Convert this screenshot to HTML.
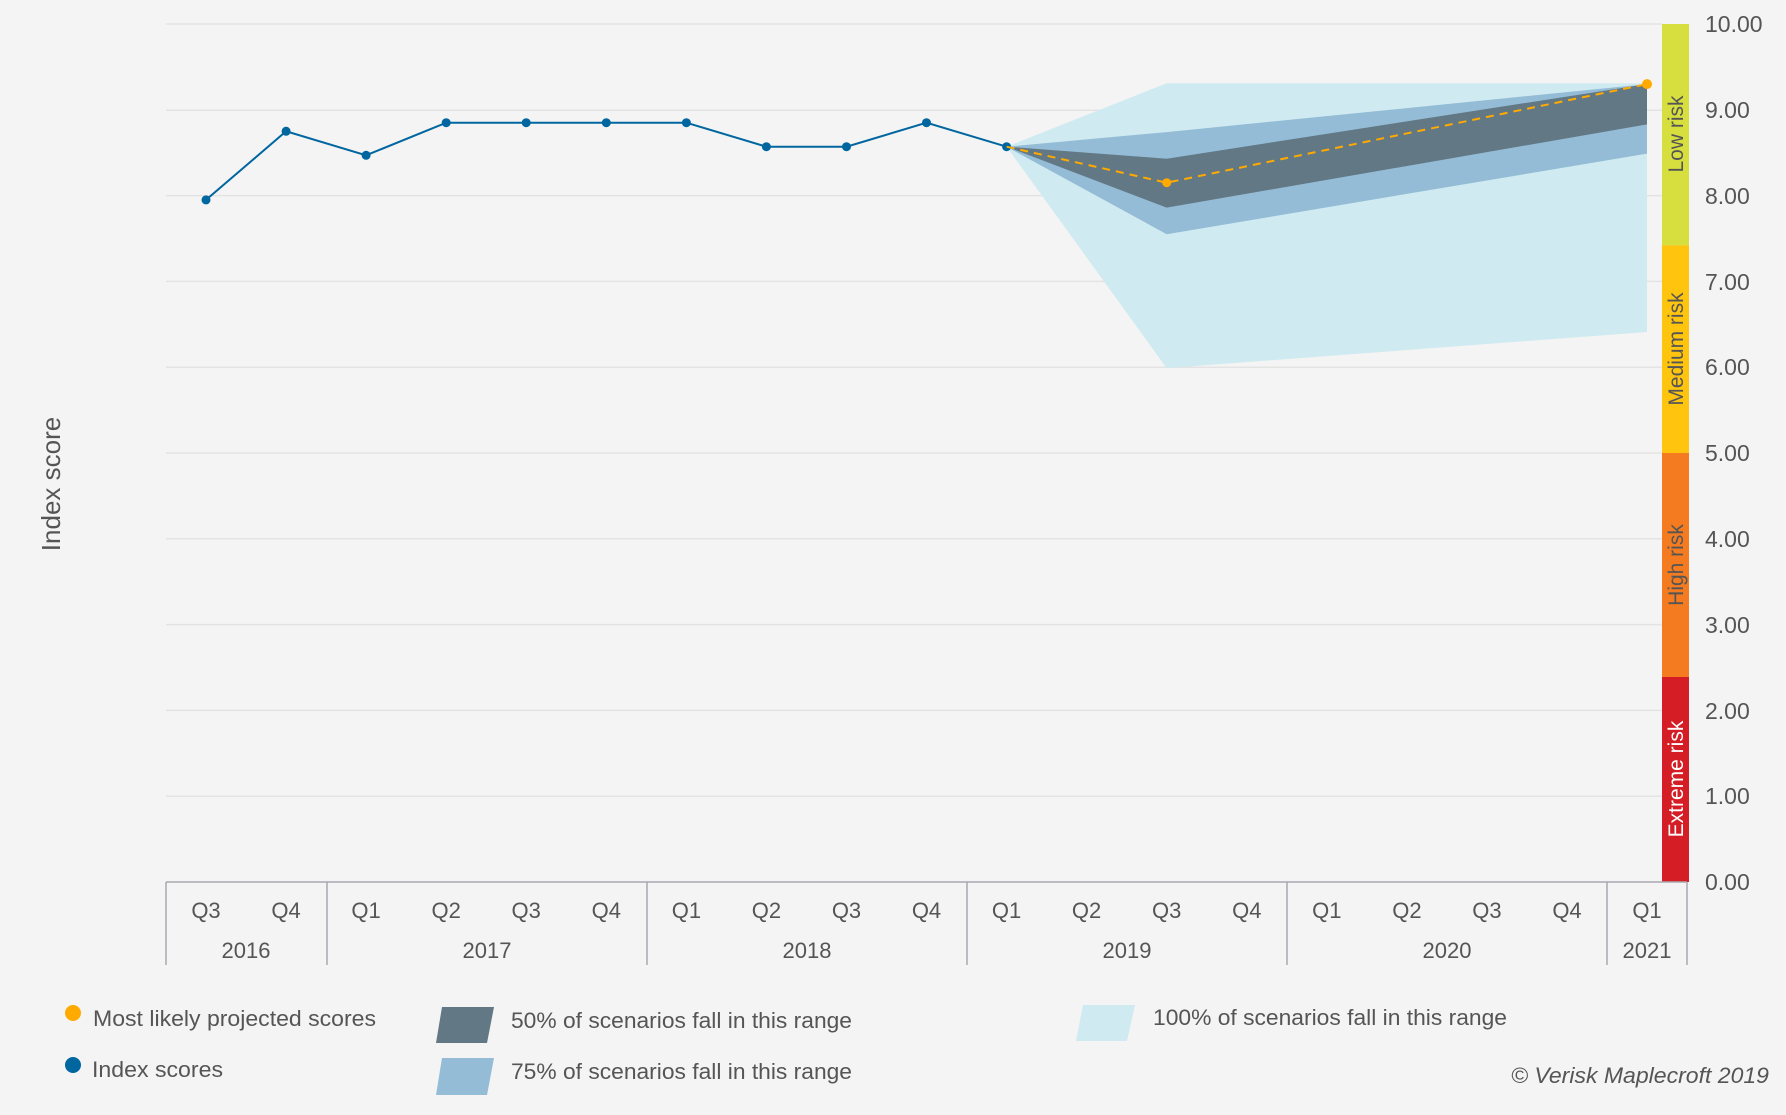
<!DOCTYPE html>
<html><head><meta charset="utf-8"><style>
html,body{margin:0;padding:0;background:#f4f4f4;}
svg{display:block;font-family:"Liberation Sans",Arial,sans-serif;}
</style></head><body>
<svg width="1786" height="1115" viewBox="0 0 1786 1115" xmlns="http://www.w3.org/2000/svg">
<rect width="1786" height="1115" fill="#f4f4f4"/>
<g stroke="#e3e3e3" stroke-width="1.5">
<line x1="166" x2="1662" y1="24" y2="24"/>
<line x1="166" x2="1662" y1="110.2" y2="110.2"/>
<line x1="166" x2="1662" y1="195.6" y2="195.6"/>
<line x1="166" x2="1662" y1="281.4" y2="281.4"/>
<line x1="166" x2="1662" y1="367.2" y2="367.2"/>
<line x1="166" x2="1662" y1="453" y2="453"/>
<line x1="166" x2="1662" y1="538.8" y2="538.8"/>
<line x1="166" x2="1662" y1="624.6" y2="624.6"/>
<line x1="166" x2="1662" y1="710.4" y2="710.4"/>
<line x1="166" x2="1662" y1="796.2" y2="796.2"/>
</g>
<polygon points="1006.6,146.7 1166.7,83.2 1647,83.2 1647,332 1166.7,368.1" fill="#cfeaf0"/>
<polygon points="1006.6,146.7 1166.7,132.1 1647,84.1 1647,153.6 1166.7,234.2" fill="#94bcd6"/>
<polygon points="1006.6,146.7 1166.7,158.7 1647,84.1 1647,124.4 1166.7,207.6" fill="#627884"/>
<polyline fill="none" stroke="#0066a0" stroke-width="2" points="206,199.9 286.1,131.3 366.1,155.3 446.2,122.7 526.2,122.7 606.3,122.7 686.4,122.7 766.4,146.7 846.5,146.7 926.5,122.7 1006.6,146.7"/>
<g fill="#0066a0">
<circle cx="206" cy="199.9" r="4.5"/><circle cx="286.1" cy="131.3" r="4.5"/><circle cx="366.1" cy="155.3" r="4.5"/><circle cx="446.2" cy="122.7" r="4.5"/><circle cx="526.2" cy="122.7" r="4.5"/><circle cx="606.3" cy="122.7" r="4.5"/><circle cx="686.4" cy="122.7" r="4.5"/><circle cx="766.4" cy="146.7" r="4.5"/><circle cx="846.5" cy="146.7" r="4.5"/><circle cx="926.5" cy="122.7" r="4.5"/><circle cx="1006.6" cy="146.7" r="4.5"/>
</g>
<polyline fill="none" stroke="#ffaa00" stroke-width="2" stroke-dasharray="8,6" points="1006.6,146.7 1166.7,182.7 1647,84.1"/>
<circle cx="1166.7" cy="182.7" r="4.5" fill="#ffaa00"/>
<circle cx="1647" cy="84.1" r="5" fill="#ffaa00"/>
<rect x="1662" y="24" width="27" height="221.4" fill="#d7df3e"/>
<rect x="1662" y="245.4" width="27" height="207.6" fill="#ffc40e"/>
<rect x="1662" y="453" width="27" height="224" fill="#f47b20"/>
<rect x="1662" y="677" width="27" height="205" fill="#d41d24"/>
<g font-size="21" text-anchor="middle">
<text transform="translate(1683,134) rotate(-90)" fill="#555">Low risk</text>
<text transform="translate(1683,349) rotate(-90)" fill="#555">Medium risk</text>
<text transform="translate(1683,565) rotate(-90)" fill="#555">High risk</text>
<text transform="translate(1683,779) rotate(-90)" fill="#fff">Extreme risk</text>
</g>
<g font-size="23" fill="#555" text-anchor="start">
<text x="1705" y="32">10.00</text>
<text x="1705" y="118">9.00</text>
<text x="1705" y="204">8.00</text>
<text x="1705" y="290">7.00</text>
<text x="1705" y="375">6.00</text>
<text x="1705" y="461">5.00</text>
<text x="1705" y="547">4.00</text>
<text x="1705" y="633">3.00</text>
<text x="1705" y="719">2.00</text>
<text x="1705" y="804">1.00</text>
<text x="1705" y="890">0.00</text>
</g>
<text transform="translate(60,484) rotate(-90)" font-size="26" fill="#555" text-anchor="middle">Index score</text>
<line x1="166" x2="1687" y1="882" y2="882" stroke="#a8a8b0" stroke-width="1.5"/>
<g stroke="#a8a8b0" stroke-width="1.5">
<line x1="166" x2="166" y1="882" y2="965"/>
<line x1="327" x2="327" y1="882" y2="965"/>
<line x1="647" x2="647" y1="882" y2="965"/>
<line x1="967" x2="967" y1="882" y2="965"/>
<line x1="1287" x2="1287" y1="882" y2="965"/>
<line x1="1607" x2="1607" y1="882" y2="965"/>
<line x1="1687" x2="1687" y1="882" y2="965"/>
</g>
<g font-size="22" fill="#555" text-anchor="middle">
<text x="206" y="918">Q3</text><text x="286.1" y="918">Q4</text>
<text x="366.1" y="918">Q1</text><text x="446.2" y="918">Q2</text><text x="526.2" y="918">Q3</text><text x="606.3" y="918">Q4</text>
<text x="686.4" y="918">Q1</text><text x="766.4" y="918">Q2</text><text x="846.5" y="918">Q3</text><text x="926.5" y="918">Q4</text>
<text x="1006.6" y="918">Q1</text><text x="1086.6" y="918">Q2</text><text x="1166.7" y="918">Q3</text><text x="1246.8" y="918">Q4</text>
<text x="1326.8" y="918">Q1</text><text x="1406.9" y="918">Q2</text><text x="1486.9" y="918">Q3</text><text x="1567" y="918">Q4</text>
<text x="1647" y="918">Q1</text>
<text x="246" y="958">2016</text><text x="487" y="958">2017</text><text x="807" y="958">2018</text><text x="1127" y="958">2019</text><text x="1447" y="958">2020</text><text x="1647" y="958">2021</text>
</g>
<circle cx="73" cy="1013" r="8" fill="#ffaa00"/>
<circle cx="73" cy="1065" r="8" fill="#0066a0"/>
<polygon points="442,1007 494,1007 487,1043 436,1043" fill="#627884"/>
<polygon points="442,1058 494,1058 487,1095 436,1095" fill="#94bcd6"/>
<polygon points="1083,1005 1135,1005 1127,1041 1076,1041" fill="#cfeaf0"/>
<g font-size="22" fill="#555">
<text x="93" y="1026" textLength="283" lengthAdjust="spacingAndGlyphs">Most likely projected scores</text>
<text x="92" y="1077" textLength="131" lengthAdjust="spacingAndGlyphs">Index scores</text>
<text x="511" y="1028" textLength="341" lengthAdjust="spacingAndGlyphs">50% of scenarios fall in this range</text>
<text x="511" y="1079" textLength="341" lengthAdjust="spacingAndGlyphs">75% of scenarios fall in this range</text>
<text x="1153" y="1025" textLength="354" lengthAdjust="spacingAndGlyphs">100% of scenarios fall in this range</text>
<text x="1511" y="1083" font-style="italic" textLength="258" lengthAdjust="spacingAndGlyphs">© Verisk Maplecroft 2019</text>
</g>
</svg>
</body></html>
